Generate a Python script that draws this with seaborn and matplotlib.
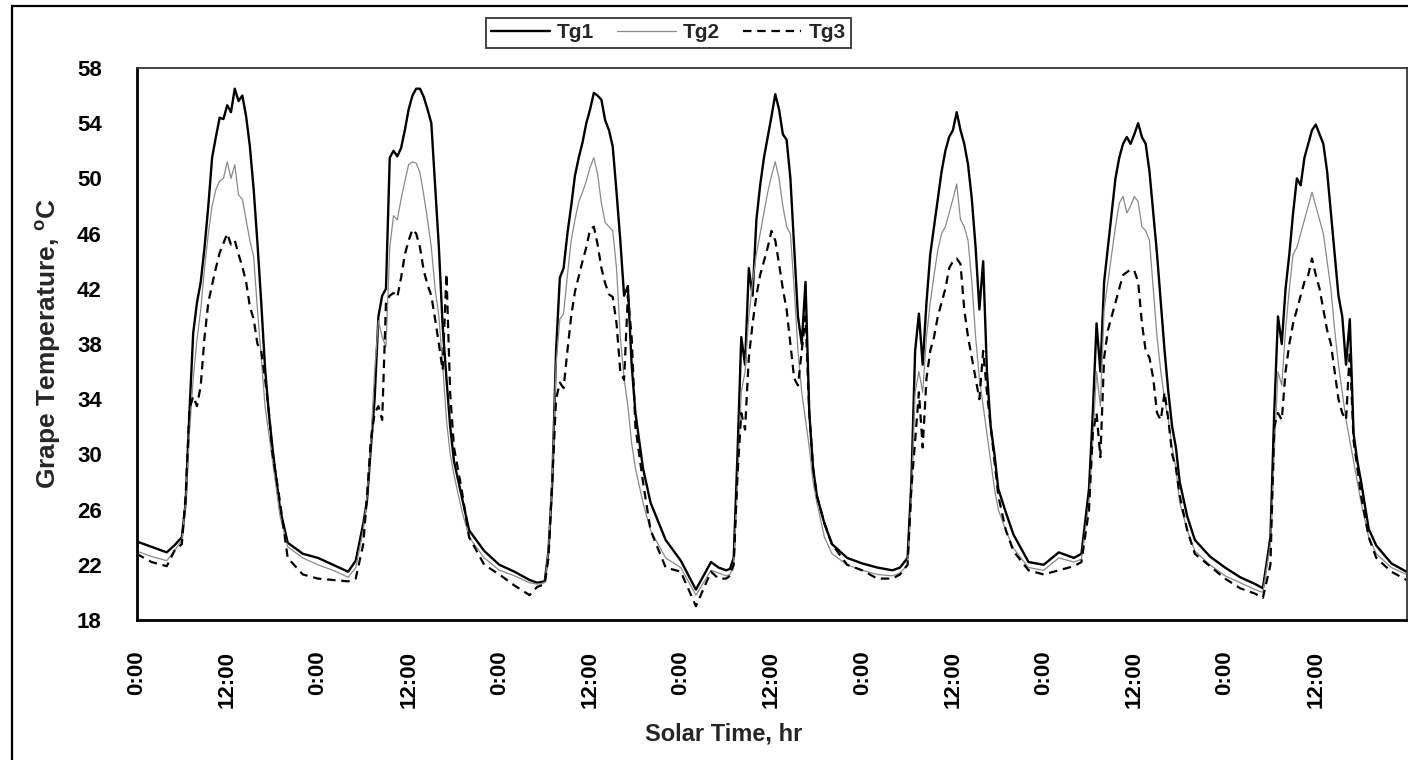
import numpy as np
import pandas as pd
import matplotlib
matplotlib.use("Agg")
import matplotlib.pyplot as plt
import matplotlib.patches as mpatches
import seaborn as sns

# ---------------- data ----------------
days = [0, 1, 2, 3, 4, 5, 6]
local_hours = [0, 2, 4, 5, 6, 6.5, 7, 7.5, 8, 8.5, 9, 9.5, 10, 10.5, 11, 11.5,
               12, 12.5, 13, 13.5, 14, 14.5, 15, 15.5, 16, 16.5, 17, 17.5, 18, 19, 20, 22]
end_hour = 168

tg1 = [
    23.7, 23.3, 22.9, 23.4, 24.0, 26.5, 33.0, 38.8, 41.0, 42.5, 45.0, 48.0, 51.5, 53.0, 54.4, 54.3,
    55.3, 54.8, 56.5, 55.6, 56.0, 54.5, 52.3, 49.2, 45.3, 41.0, 36.3, 33.0, 30.4, 26.0, 23.6, 22.8,
    22.5, 22.0, 21.5, 22.3, 25.0, 26.7, 30.5, 34.0, 40.0, 41.5, 42.0, 51.5, 52.0, 51.6, 52.2, 53.5,
    55.0, 56.0, 56.5, 56.5, 55.9, 55.0, 54.0, 49.5, 45.0, 39.3, 35.5, 32.0, 29.5, 27.0, 24.5, 23.0,
    22.0, 21.5, 20.9, 20.7, 20.8, 23.0, 28.0, 37.5, 42.8, 43.5, 46.0, 48.0, 50.2, 51.5, 52.6, 54.0,
    55.0, 56.2, 56.0, 55.7, 54.2, 53.5, 52.3, 49.0, 45.5, 41.5, 42.2, 36.5, 33.0, 29.0, 26.5, 23.8,
    22.3, 20.2, 22.2, 21.8, 21.6, 21.7, 22.5, 30.0, 38.5, 36.5, 43.5, 41.5, 47.0, 49.5, 51.5, 53.0,
    54.5, 56.1, 55.0, 53.2, 52.8, 50.0, 45.0, 40.0, 38.0, 42.5, 33.0, 29.0, 27.0, 25.0, 23.5, 22.5,
    22.1, 21.8, 21.6, 21.8, 22.5, 28.0, 37.5, 40.2, 36.5, 41.0, 44.5, 46.5, 48.5, 50.5, 52.0, 53.0,
    53.5, 54.8, 53.5, 52.5, 51.0, 48.5, 45.0, 40.5, 44.0, 36.0, 32.0, 30.0, 27.5, 25.8, 24.2, 22.2,
    22.0, 22.9, 22.5, 22.8, 27.5, 33.0, 39.5, 36.0, 42.5, 45.0, 47.5, 50.0, 51.5, 52.5, 53.0, 52.5,
    53.2, 54.0, 53.0, 52.5, 50.5, 47.5, 44.5, 41.0, 37.5, 34.5, 32.0, 30.5, 28.0, 25.5, 23.8, 22.6,
    21.8, 21.1, 20.6, 20.3, 24.0, 33.0, 40.0, 38.0, 42.0, 44.5, 47.5, 50.0, 49.5, 51.5, 52.5, 53.5,
    53.9, 53.2, 52.5, 50.5, 47.5, 44.5, 41.5, 40.0, 36.5, 39.8, 31.5, 29.5, 28.0, 24.6, 23.4, 22.1,
    21.5,
]

tg2 = [
    23.0, 22.6, 22.3, 23.0, 23.8, 26.5, 31.5, 35.5, 38.3, 40.5, 43.5, 46.0, 48.0, 49.2, 49.8, 50.0,
    51.2, 50.0, 51.0, 48.8, 48.5, 47.0, 45.5, 44.3, 40.5, 37.0, 33.5, 31.5, 29.5, 25.5, 23.3, 22.5,
    22.0, 21.6, 21.1, 21.8, 24.5, 27.0, 31.0, 36.0, 39.7, 38.5, 37.8, 45.0, 47.3, 47.0, 48.5, 49.8,
    51.0, 51.2, 51.1, 50.4, 48.8, 47.0, 45.0, 42.0, 40.0, 36.5, 32.5, 30.0, 28.5, 26.0, 24.0, 22.5,
    21.6, 21.2, 20.7, 20.6, 20.7, 23.0, 28.5, 36.5, 39.8, 40.2, 43.0, 45.5, 47.0, 48.3, 49.0, 49.8,
    50.8, 51.5, 50.3, 48.2, 46.8, 46.5, 46.2, 43.5, 38.5, 35.5, 33.5, 30.8, 29.0, 26.5, 24.5, 22.5,
    21.8, 19.8, 21.6, 21.4, 21.2, 21.3, 22.0, 28.0, 34.5, 36.0, 40.0, 42.5, 44.5, 46.0, 47.5, 49.0,
    50.2, 51.2, 50.0, 48.0, 46.5, 46.0, 42.0, 37.5, 34.5, 32.5, 30.5, 28.0, 26.5, 24.0, 22.8, 22.0,
    21.6, 21.3, 21.2, 21.4, 22.0, 27.0, 34.5, 36.0, 34.5, 38.5, 41.0, 43.0, 44.8, 46.0, 46.5, 47.5,
    48.5, 49.6, 47.0, 46.5, 45.5, 42.5, 38.5, 35.5, 33.5, 31.5, 29.5, 27.5, 26.0, 24.5, 23.2, 21.8,
    21.6, 22.5, 22.2, 22.4, 26.5, 31.0, 36.0, 33.5, 40.5, 42.5, 44.5, 46.5, 48.2, 48.7, 47.5, 48.0,
    48.7, 48.3, 46.5, 46.2, 45.5, 42.0, 38.5, 36.0, 34.0, 32.5, 30.5, 29.0, 26.5, 24.5, 23.0, 22.0,
    21.2, 20.7, 20.2, 20.0, 23.5, 30.0, 36.0, 35.0, 39.0, 42.0, 44.5, 45.0, 46.0, 47.0, 48.0, 49.0,
    48.0, 47.0, 46.0, 44.0, 42.0, 39.0, 36.5, 34.5, 32.5, 31.0, 29.5, 28.0, 26.5, 24.0, 22.8, 21.8,
    21.3,
]

tg3 = [
    22.8, 22.2, 21.9, 23.0, 23.5, 27.0, 33.3, 34.2, 33.5, 35.0, 38.5, 41.0, 42.3, 43.5, 44.6, 45.3,
    46.0, 45.2, 45.5, 44.5, 43.6, 42.5, 40.7, 39.8, 38.0, 37.5, 35.5, 33.2, 30.0, 26.5, 22.5, 21.3,
    21.0, 20.9, 20.8, 21.0, 23.5, 27.0, 31.0, 33.0, 33.5, 32.5, 41.0, 41.5, 41.7, 41.4, 42.8, 44.5,
    45.5, 46.3, 46.0, 45.0, 43.3, 42.3, 41.5, 39.8, 38.0, 36.1, 43.1, 34.4, 30.5, 27.5, 24.0, 22.0,
    21.3, 20.5, 19.8, 20.4, 20.6, 22.5, 28.0, 34.0, 35.2, 34.8, 37.5, 40.0, 41.8, 42.9, 44.0, 45.0,
    46.3, 46.5, 45.2, 43.5, 42.4, 41.6, 41.4, 39.5, 36.0, 35.4, 41.5, 38.5, 32.0, 28.0, 24.5, 21.8,
    21.5, 19.0, 21.5, 21.0, 21.0, 21.2, 22.0, 28.5, 33.0, 31.8, 37.0, 39.5, 41.5, 43.0, 44.0, 45.0,
    46.2, 45.5, 43.8, 42.0, 40.5, 38.0, 35.5, 35.0, 37.5, 40.0, 33.0, 29.0, 27.0, 25.0, 23.5, 22.0,
    21.6, 21.0, 21.0, 21.3, 22.0, 27.5, 31.0, 34.5, 30.5, 35.5, 37.5, 38.5, 40.0, 41.0, 42.0, 43.5,
    44.0, 44.2, 43.8, 40.5, 38.5, 37.0, 35.5, 34.0, 37.5, 34.5, 32.0, 29.5, 27.0, 24.5, 23.0, 21.6,
    21.3, 21.6, 21.9, 22.2, 26.0, 31.5, 33.0, 29.8, 37.0, 39.0, 40.0, 41.0, 42.0, 43.0, 43.2, 43.4,
    43.3, 42.5, 39.5, 37.5, 37.0, 35.5, 33.0, 32.5, 34.5, 32.5, 30.0, 29.0, 27.0, 24.5, 22.8, 21.9,
    21.0, 20.3, 19.9, 19.6, 22.0, 32.0, 33.0, 32.5, 36.0, 38.0, 39.5, 40.5, 41.5, 42.5, 43.0, 44.2,
    43.0, 42.0, 40.5, 39.0, 38.0, 36.0, 34.0, 33.0, 32.5, 37.5, 31.0, 29.0, 27.0, 24.0, 22.5, 21.5,
    20.9,
]

series_names = ["Tg1", "Tg2", "Tg3"]
x_tick_labels = ["0:00", "12:00"] * 7
y_ticks = [18, 22, 26, 30, 34, 38, 42, 46, 50, 54, 58]

hours = [d * 24 + h for d in days for h in local_hours] + [end_hour]
assert len(hours) == len(tg1) == len(tg2) == len(tg3)

df = pd.DataFrame({"hour": hours, "Tg1": tg1, "Tg2": tg2, "Tg3": tg3})

# ---------------- style ----------------
sns.set_theme(style="white")
plt.rcParams["font.family"] = ["Liberation Sans", "DejaVu Sans"]
plt.rcParams["font.weight"] = "bold"
plt.rcParams["mathtext.fontset"] = "custom"
plt.rcParams["mathtext.rm"] = "Liberation Sans:bold"
plt.rcParams["mathtext.bf"] = "Liberation Sans:bold"
plt.rcParams["mathtext.it"] = "Liberation Sans:bold"

W, H = 1408, 760
fig = plt.figure(figsize=(W / 100, H / 100), dpi=100)
fig.patch.set_facecolor("white")
ax = fig.add_axes([136.5 / W, 140 / H, 1270 / W, 552 / H])
ax.set_facecolor("white")

styles = {
    "Tg1": dict(color="black", lw=1.7, linestyle="-"),
    "Tg2": dict(color="#8a8a8a", lw=0.9, linestyle="-"),
    "Tg3": dict(color="black", lw=1.6, linestyle=(0, (3.8, 2.6))),
}
for name in series_names:
    sns.lineplot(data=df, x="hour", y=name, ax=ax, label=name, **styles[name])

ax.set_xlim(0, end_hour)
ax.set_ylim(18, 58)
ax.set_yticks(y_ticks)
ax.set_yticklabels([str(v) for v in y_ticks], fontsize=16, fontweight="bold")

label_pos = list(range(0, end_hour, 12))
ax.set_xticks(label_pos)
ax.set_xticklabels(x_tick_labels, rotation=90, fontsize=16, fontweight="bold")
ax.set_xticks(np.linspace(0, end_hour, 17), minor=True)
ax.tick_params(axis="x", which="major", length=0, pad=22)
ax.tick_params(axis="x", which="minor", length=7, width=1.5, direction="out", color="black")
ax.tick_params(axis="y", which="major", length=8, width=1.5, direction="out", color="black", pad=17)
ax.tick_params(axis="both", colors="black")

for side in ["left", "bottom"]:
    ax.spines[side].set_linewidth(2)
    ax.spines[side].set_color("black")
for side in ["top", "right"]:
    ax.spines[side].set_linewidth(1.3)
    ax.spines[side].set_color("#333333")

ax.set_xlabel("Solar Time, hr", fontsize=17, fontweight="bold", va="baseline")
ax.xaxis.set_label_coords((724 - 136.5) / 1270, -(740 - 620) / 552)
ax.set_ylabel(r"Grape Temperature, $^{\mathbf{o}}$C", fontsize=19, fontweight="bold")
ax.yaxis.set_label_coords((63 - 136.5) / 1270, 0.5)

ax.get_legend().remove()
handles, labels = ax.get_legend_handles_labels()
leg = fig.legend(handles, labels, loc="center", bbox_to_anchor=(668.5 / W, (H - 33) / H),
                 ncol=3, frameon=True, fancybox=False, edgecolor="black",
                 prop={"family": "Liberation Sans", "weight": "bold", "size": 15},
                 handlelength=2.8, handletextpad=0.35, columnspacing=1.1,
                 borderpad=0.25, borderaxespad=0)
leg.get_frame().set_linewidth(1.3)

# outer chart border
fig.patches.append(mpatches.Rectangle((12 / W, -0.05), 1.2, (H - 5.7) / H + 0.05,
                                      transform=fig.transFigure, fill=False,
                                      edgecolor="black", lw=1.6, clip_on=False))

fig.savefig("out.png", dpi=100, facecolor="white")
